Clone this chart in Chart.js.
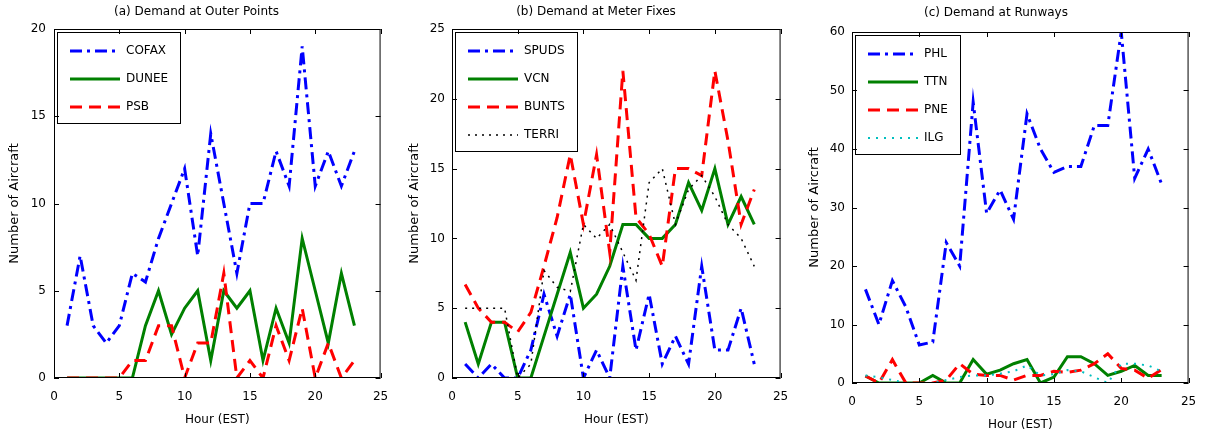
<!DOCTYPE html>
<html>
<head>
<meta charset="utf-8">
<script src="https://cdn.jsdelivr.net/npm/chart.js@4.4.1/dist/chart.umd.min.js"></script>
<style>
html, body { margin: 0; padding: 0; background: #fff; }
#wrap { position: relative; width: 1208px; height: 438px; }
canvas { position: absolute; top: 0; }
</style>
</head>
<body>
<div id="wrap">
  <canvas id="chartA" width="400" height="438" style="left:0px"></canvas>
  <canvas id="chartB" width="400" height="438" style="left:400px"></canvas>
  <canvas id="chartC" width="408" height="438" style="left:800px"></canvas>
</div>
<script>
// hours on the x axis
const hours = [1, 2, 3, 4, 5, 6, 7, 8, 9, 10, 11, 12, 13, 14, 15, 16, 17, 18, 19, 20, 21, 22, 23];

// (a) outer points
const outerNames = ['COFAX', 'DUNEE', 'PSB'];
const cofax = [3, 7, 3, 2, 3, 6, 5.5, 8, 10, 12, 7, 14, 10, 6, 10, 10, 13, 11, 19, 11, 13, 11, 13];
const dunee = [0, 0, 0, 0, 0, 0, 3, 5, 2.5, 4, 5, 1, 5, 4, 5, 1, 4, 2, 8, 5, 2, 6, 3];
const psb   = [0, 0, 0, 0, 0, 1, 1, 3, 3, 0, 2, 2, 6, 0, 1, 0, 3, 1, 4, 0, 2, 0, 1];

// (b) meter fixes
const fixNames = ['SPUDS', 'VCN', 'BUNTS', 'TERRI'];
const spuds = [1, 0, 1, 0, 0, 2, 6, 3, 6, 0, 2, 0, 8, 2, 6, 1, 3, 1, 8, 2, 2, 5, 1];
const vcn   = [4, 1, 4, 4, 0, 0, 3, 6, 9, 5, 6, 8, 11, 11, 10, 10, 11, 14, 12, 15, 11, 13, 11];
const bunts = [6.7, 5, 4, 4, 3.3, 4.7, 8, 11.5, 16, 11, 16, 9, 22, 11.5, 10.3, 8, 15, 15, 14.5, 22, 17, 11, 13.5];
const terri = [5, 5, 5, 5, 0, 1, 7.7, 6.5, 6.2, 11, 10, 11, 9, 7, 14, 15, 11, 13.5, 14.5, 13, 11, 10, 8];

// (c) runways
const rwyNames = ['PHL', 'TTN', 'PNE', 'ILG'];
const phl = [16, 10, 17.5, 13, 6.5, 7, 24, 20, 48, 29, 33, 28, 46, 40, 36, 37, 37, 44, 44, 60, 35, 40, 34];
const ttn = [1.2, 0, 0, 0, 0, 1.3, 0, 0, 4, 1.5, 2.2, 3.3, 4, 0, 1, 4.5, 4.5, 3.3, 1.3, 2, 3, 1.3, 1.3];
const pne = [1.2, 0, 4, 0, 0, 0, 0.5, 3.3, 1.5, 1.3, 1.3, 0.5, 1.3, 1.3, 2, 1.8, 2.2, 3.3, 5, 2.5, 2.2, 0.8, 2.3];
const ilg = [1.3, 1, 0.5, 0, 0, 0, 0.5, 1, 1.3, 1.3, 1.6, 2, 3, 1.3, 1.5, 2.2, 2, 1, 0, 3.3, 3.3, 3, 2];

// matlab-ish line looks
const blueDashDot = { color: '#0000ff', dash: [12, 5, 3, 5], width: 3 };
const greenSolid  = { color: '#008000', dash: [], width: 3 };
const redDash     = { color: '#ff0000', dash: [12, 7], width: 3 };
const blackDot    = { color: '#000000', dash: [2, 5], width: 1.5 };
const cyanDot     = { color: '#00bfbf', dash: [2, 6], width: 2 };

Chart.defaults.font.family = "'DejaVu Sans', sans-serif";
Chart.defaults.font.size = 12;
Chart.defaults.color = '#000';

// box around plot + inward ticks + legend frame
const matlabFrame = {
    id: 'matlabFrame',
    afterLayout(chart) {
        // vertical legend in the chart area gets top = 0, push it down
        const lg = chart.legend;
        const dy = chart.chartArea.top - lg.top;
        lg.top += dy;
        lg.bottom += dy;
    },
    afterDraw(chart) {
        const { ctx, chartArea: a, scales: { x, y } } = chart;
        ctx.save();
        ctx.strokeStyle = '#000';
        ctx.lineWidth = 1;
        ctx.setLineDash([]);
        ctx.strokeRect(a.left + 0.5, a.top + 0.5, a.width - 1, a.height - 1);
        ctx.beginPath();
        x.ticks.forEach(t => {
            const px = Math.round(x.getPixelForValue(t.value)) + 0.5;
            ctx.moveTo(px, a.bottom); ctx.lineTo(px, a.bottom - 5);
            ctx.moveTo(px, a.top); ctx.lineTo(px, a.top + 5);
        });
        y.ticks.forEach(t => {
            const py = Math.round(y.getPixelForValue(t.value)) + 0.5;
            ctx.moveTo(a.left, py); ctx.lineTo(a.left + 5, py);
            ctx.moveTo(a.right, py); ctx.lineTo(a.right - 5, py);
        });
        ctx.stroke();

        const hb = chart.legend.legendHitBoxes;
        if (hb && hb.length) {
            const l = hb[0].left - 13;
            const t = hb[0].top - 13;
            const r = Math.max(...hb.map(h => h.left + h.width)) + 12;
            const last = hb[hb.length - 1];
            const b = last.top + last.height + 10;
            ctx.strokeRect(Math.round(l) + 0.5, Math.round(t) + 0.5, Math.round(r - l), Math.round(b - t));
        }
        ctx.restore();
    }
};

// legend samples should carry the dataset's dash and width
function legendLabels(chart) {
    const items = Chart.defaults.plugins.legend.labels.generateLabels(chart);
    items.forEach(it => {
        const ds = chart.data.datasets[it.datasetIndex];
        it.lineDash = ds.borderDash;
        it.lineWidth = ds.borderWidth;
        it.strokeStyle = ds.borderColor;
    });
    return items;
}

function drawPanel(id, title, names, series, looks, yMax, yStep, box) {
    const datasets = series.map((s, i) => ({
        label: names[i],
        data: s.map((v, k) => ({ x: hours[k], y: v })),
        borderColor: looks[i].color,
        backgroundColor: looks[i].color,
        borderDash: looks[i].dash,
        borderWidth: looks[i].width,
        pointRadius: 0,
        tension: 0,
        fill: false,
        order: series.length - i
    }));

    return new Chart(document.getElementById(id), {
        type: 'line',
        data: { datasets },
        options: {
            responsive: false,
            animation: false,
            layout: { padding: { left: 0, right: box.right, top: 0, bottom: 0 } },
            plugins: {
                title: {
                    display: true,
                    text: title,
                    color: '#000',
                    font: { size: 12, weight: 'normal' },
                    padding: { top: box.titleTop, bottom: box.top - 14.4 - box.titleTop }
                },
                legend: {
                    position: 'chartArea',
                    align: 'start',
                    labels: {
                        usePointStyle: true,
                        pointStyle: 'line',
                        pointStyleWidth: 50,
                        padding: 16,
                        color: '#000',
                        font: { size: 12 },
                        generateLabels: legendLabels,
                        sort: (a, b) => a.datasetIndex - b.datasetIndex
                    }
                },
                tooltip: { enabled: false }
            },
            scales: {
                x: {
                    type: 'linear',
                    min: 0,
                    max: 25,
                    ticks: { stepSize: 5, padding: 11.8, color: '#000' },
                    grid: { display: false, drawTicks: false },
                    border: { display: false },
                    title: { display: true, text: 'Hour (EST)', color: '#000', font: { size: 12 }, padding: { top: 0, bottom: box.xTitle } },
                    afterFit: s => { s.height = box.bottom; }
                },
                y: {
                    min: 0,
                    max: yMax,
                    ticks: { stepSize: yStep, padding: box.yPad, color: '#000' },
                    grid: { display: false, drawTicks: false },
                    border: { display: false },
                    title: { display: true, text: 'Number of Aircraft', color: '#000', font: { size: 13 }, padding: { top: 7.2, bottom: 0 } },
                    afterFit: s => { s.width = box.left; }
                }
            }
        },
        plugins: [matlabFrame]
    });
}

drawPanel('chartA', '(a) Demand at Outer Points', outerNames,
    [cofax, dunee, psb], [blueDashDot, greenSolid, redDash], 20, 5,
    { left: 54, right: 7, top: 29, titleTop: 4.3, bottom: 60, xTitle: 10.8, yPad: 8 });

drawPanel('chartB', '(b) Demand at Meter Fixes', fixNames,
    [spuds, vcn, bunts, terri], [blueDashDot, greenSolid, redDash, blackDot], 25, 5,
    { left: 52, right: 8, top: 29, titleTop: 4.3, bottom: 60, xTitle: 10.8, yPad: 7 });

drawPanel('chartC', '(c) Demand at Runways', rwyNames,
    [phl, ttn, pne, ilg], [blueDashDot, greenSolid, redDash, cyanDot], 60, 10,
    { left: 52, right: 16, top: 32, titleTop: 5.5, bottom: 55, xTitle: 5.8, yPad: 7 });
</script>
</body>
</html>
